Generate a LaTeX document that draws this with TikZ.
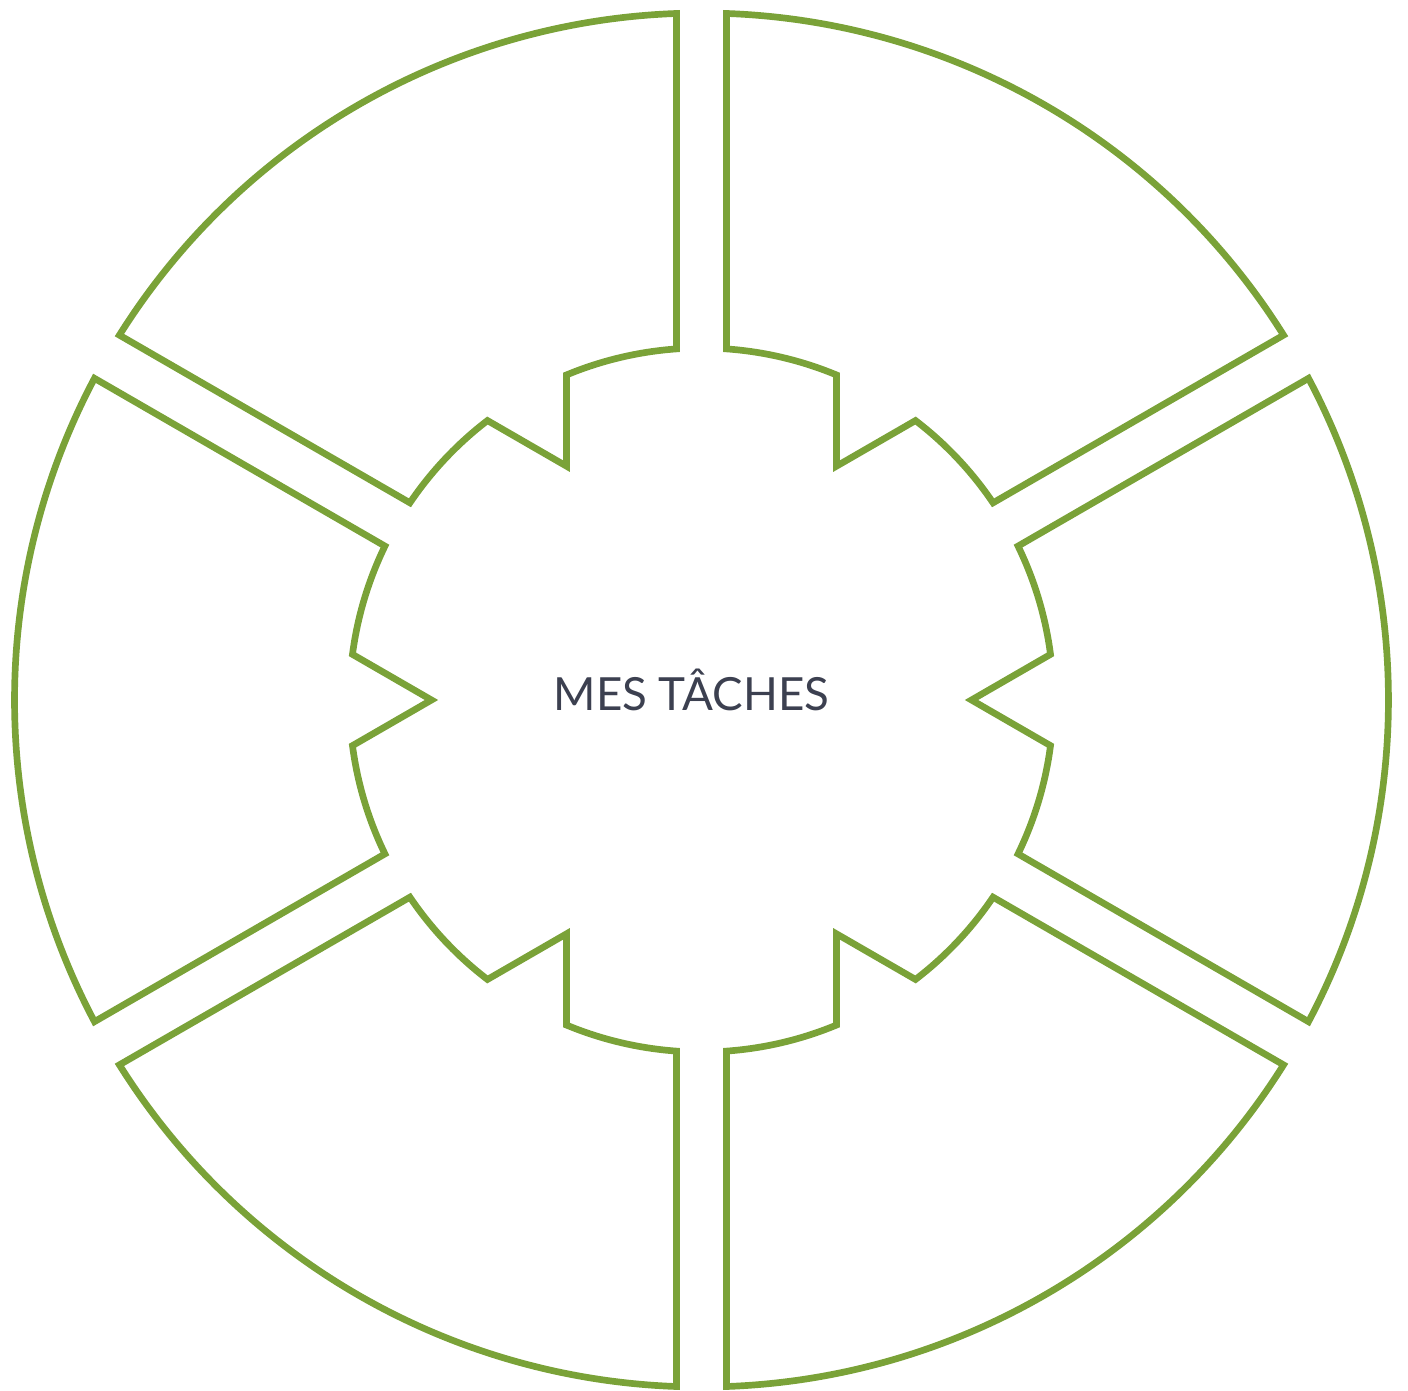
\documentclass[tikz,border=0pt]{standalone}
\usepackage{fontspec}
\setmainfont{Lato}
\usepackage{xcolor}
\definecolor{leafgreen}{RGB}{122,162,56}
\definecolor{slate}{RGB}{60,64,80}

\begin{document}
\begin{tikzpicture}[x=1cm, y=1cm,
    sector/.style={draw=leafgreen, line width=1.9pt, line join=miter},
    title/.style={text=slate, font=\fontsize{13}{15}\selectfont}]
  \useasboundingbox (-7.015,-6.91) rectangle (7.065,7.00);
  % six pieces round the hub, each with a notch at its inner side
  \foreach \a in {0,60,...,300}
    \draw[sector, rotate=\a] (27.92:6.87) arc[start angle=27.92, end angle=-27.92, radius=6.87]
      -- (-25.93:3.52) arc[start angle=-25.93, end angle=-7.45, radius=3.52]
      -- (2.70,0) -- (7.45:3.52)
      arc[start angle=7.45, end angle=25.93, radius=3.52] -- cycle;
  \node[title, anchor=base] (tasks) at (-0.10,-0.10) {MES TÂCHES};
\end{tikzpicture}
\end{document}
